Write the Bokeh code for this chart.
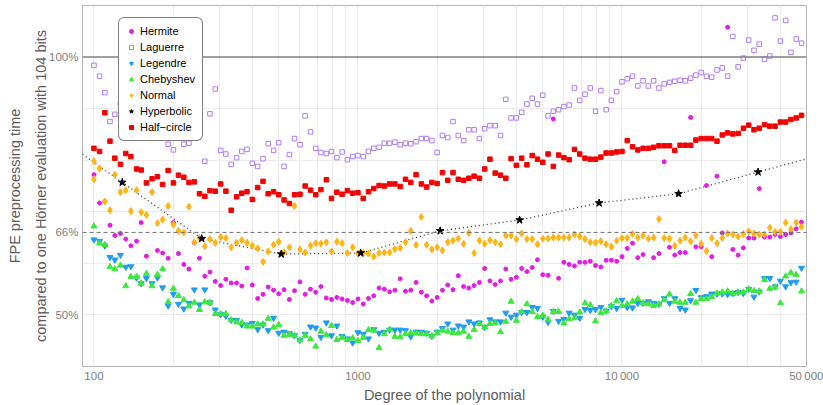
import numpy as np
from bokeh.plotting import figure
from bokeh.models import Range1d, FixedTicker, Span, LinearAxis
from bokeh.embed import file_html
from bokeh.resources import INLINE

# Polynomial degrees: 50 samples per decade starting at 100
degrees = [int(round(100 * 10 ** (k / 50))) for k in range(135)]

# Preprocessing time relative to one Horner evaluation with 104 bits (%)
hermite = [
    77.2, 71.7, 72.0, 67.4, 65.4, 65.8, 64.7, 63.4, 64.3, 67.9, 61.4, 73.8, 62.5, 62.0, 61.0, 67.9,
    61.9, 59.8, 58.9, 64.0, 61.0, 57.5,
    58.3, 56.5, 55.7, 56.9, 56.2, 56.2, 55.6, 59.1, 55.8, 53.2, 54.0, 55.4, 54.8, 54.1,
    54.9, 53.0, 54.7, 56.4, 54.0, 55.0, 54.4, 55.5, 53.3,
    53.0, 53.4, 53.1, 52.8, 52.4, 53.1, 52.1, 53.2, 53.7, 55.2, 55.0, 54.5, 54.8, 57.0, 54.6, 54.8,
    56.3, 54.4, 53.7, 52.7, 53.4, 54.8, 55.8, 54.9,
    57.6, 55.5, 55.2, 55.7, 56.3, 59.0, 56.6, 55.9, 56.6, 58.9, 56.9, 57.3, 59.0, 58.4, 59.2, 60.7,
    57.8, 57.7, 88.0, 57.1, 60.2, 59.8, 59.5,
    60.2, 60.2, 60.4, 59.6, 59.3, 60.6, 60.6, 60.4, 61.3, 62.9, 63.9, 61.1, 61.7, float("nan"), 61.1,
    61.9, 79.7, 63.1, 61.6, 62.1, 62.1, 88.3, 63.2,
    63.2, 75.1, 61.3, 76.9, 65.9, 105.8, 62.7, 61.6, 63.0, 64.9, 64.9, 74.5, 65.1, 65.1, 65.6, 65.2,
    65.6, 65.9, 66.7, 68.0,
]

laguerre = [
    98.4, 96.3, 93.1, 87.5, 88.9,
    91.0, 89.5, 92.0, 90.0, 93.0, 91.0, 89.0, 92.0, 90.0,
    83.1, 82.0, 86.0, 83.1, 83.3, 85.0, 87.0, 79.8,
    89.0, 93.8, 81.9, 81.2, 79.2, 80.5, 81.7, 82.1, 79.4, 78.8, 80.3, 83.2, 81.9, 83.4, 78.8, 81.1,
    84.2, 83.0, 88.6, 85.5, 82.3, 81.5, 81.3,
    81.7, 80.5, 81.6, 80.1, 80.7, 80.9, 80.7, 81.7, 82.3, 82.5, 83.3, 83.3, 83.5, 83.0, 83.3, 83.2,
    83.6, 84.2, 84.2, 83.8, 81.5, 84.8, 84.4, 87.5,
    84.8, 83.8, 85.9, 85.9, 84.2, 86.1, 86.7, 86.7, 84.8, 91.8, 88.2, 88.2, 89.3, 90.9, 92.0, 90.9,
    92.6, 88.6, 89.5, 89.8, 90.4, 90.7, 94.0,
    91.6, 92.8, 94.0, 89.5, 93.5, 89.8, 91.6, 93.3, 95.2, 95.8, 96.3, 94.4, 95.4, 94.4, 95.4, 94.0,
    94.8, 95.1, 95.3, 95.5, 95.4, 95.9, 96.5,
    97.0, 96.3, 96.1, 97.5, 97.9, 96.3, 104.0, 98.1, 99.8, 103.3, 101.3, 102.5, 99.6, 100.2, 107.6,
    103.1, 107.1, 100.9, 103.5, 102.7,
]

legendre = [
    64.6, 64.3, 63.4, 61.2, 60.7, 61.6, 59.3, 59.4, 57.2, 56.1, 57.1, 56.1, 57.2, 55.3, 51.8, 54.0,
    52.1, 51.2, 52.3, 54.9, 52.0, 54.9,
    52.4, 51.0, 50.1, 49.8, 49.0, 49.0, 48.1, 48.1, 48.4, 47.2, 48.1, 47.0, 49.4, 46.5,
    46.7, 46.4, 46.0, 45.1, 46.3, 47.7, 47.5, 45.7, 48.5,
    46.0, 47.9, 45.9, 45.4, 44.6, 46.6, 46.3, 45.4, 47.2, 46.5, 46.7, 47.1, 47.1, 47.1, 47.0, 45.8,
    46.7, 46.7, 46.5, 45.9, 46.7, 47.4, 48.3, 47.1,
    47.9, 47.7, 48.7, 48.3, 48.5, 47.6, 49.1, 48.7, 48.7, 50.4, 49.6, 50.0, 50.5, 50.5, 51.5, 51.3,
    49.6, 48.6, 50.7, 48.8, 49.2, 50.4, 50.0,
    49.4, 51.1, 50.9, 51.1, 51.5, 50.8, 51.7, 51.3, 52.9, 51.5, 51.4, 52.3, 52.3, 52.6, 52.3, 52.1,
    53.2, 52.3, 53.2, 51.3, 51.0, 52.8, 54.8,
    53.4, 53.6, 54.1, 54.1, 54.1, 54.0, 54.2, 54.4, 54.2, 55.0, 53.5, 54.5, 57.1, 57.1, 55.5, 56.6,
    55.5, 56.3, 56.4, 59.1,
]

chebyshev = [
    67.2, 63.9, 63.6, 59.3, 58.9, 59.6, 55.6, 57.4, 57.4, 56.1, 58.0, 55.6, 57.8, 58.9, 52.5, 55.1,
    53.7, 52.9, 51.7, 52.4, 51.0, 52.5,
    52.4, 50.2, 50.2, 50.2, 49.0, 48.6, 48.5, 47.8, 47.8, 48.2, 48.2, 49.3, 47.6, 48.1,
    46.0, 46.2, 46.0, 45.1, 46.0, 45.3, 43.9, 46.8, 46.1,
    47.9, 45.2, 45.6, 45.2, 45.5, 45.0, 45.6, 47.1, 47.0, 43.6, 46.3, 47.2, 45.8, 45.7, 46.3, 46.5,
    46.5, 46.3, 46.3, 45.9, 46.5, 47.0, 46.8, 46.5,
    46.5, 46.8, 45.8, 47.1, 48.3, 47.6, 48.3, 48.4, 46.7, 48.7, 52.6, 48.9, 50.6, 52.1, 50.6, 49.6,
    49.9, 49.1, 50.6, 50.6, 48.4, 49.2, 49.4,
    50.5, 52.3, 51.9, 48.8, 50.4, 50.7, 51.8, 52.7, 51.8, 52.1, 52.6, 53.1, 52.3, 52.1, 51.8, 52.1,
    52.9, 54.0, 52.6, 52.4, 52.4, 54.1, 52.4,
    53.1, 53.1, 53.5, 54.2, 54.4, 54.6, 54.1, 54.4, 54.4, 55.0, 54.7, 54.6, 56.8, 55.1, 55.4, 52.3,
    57.5, 58.2, 57.8, 54.6,
]

normal = [
    79.8, 78.4, 72.0, 70.3, 77.2, 73.8, 74.2, 70.1, 74.2, 69.9, 69.4, 73.8, 67.8, 68.5, 71.1, 67.5,
    66.3, 66.0, 71.0, 64.1, 64.9, 63.3,
    64.7, 64.0, 65.1, 64.9, 63.1, 64.0, 64.5, 64.0, 63.4, 62.9, 60.3, 62.3, 63.6, 64.2, 62.2, 63.1,
    71.1, 62.7, 62.1, 63.4, 63.9, 63.8, 64.1,
    62.3, 64.2, 63.9, 62.0, 63.1, 61.9, 62.0, 61.9, 61.3, 62.0, 62.1, 62.1, 62.8, 63.0, 64.1, 66.3,
    63.6, 69.0, 63.6, 62.7, 63.1, 62.5, 64.1, 64.4,
    64.8, 63.8, 65.9, 62.0, 64.4, 63.8, 64.5, 64.1, 63.7, 65.4, 65.4, 64.7, 65.8, 64.7, 64.7, 63.7,
    64.8, 64.8, 65.0, 65.0, 65.0, 65.0, 65.6,
    65.2, 64.7, 64.1, 64.0, 64.3, 63.7, 63.2, 64.4, 64.9, 64.9, 65.7, 65.0, 65.4, 64.8, 65.0, 68.6,
    64.9, 64.8, 63.4, 64.4, 65.0, 64.3, 65.4,
    63.8, 62.4, 64.9, 63.9, 64.9, 65.8, 65.6, 65.2, 65.7, 66.2, 65.8, 65.6, 65.6, 66.9, 66.1, 66.1,
    67.9, 66.6, 67.9, 67.1,
]
# second measurement of the Normal family at degree 100
normal_repeat_deg = [100]
normal_repeat = [76.3]

half_circle = [
    82.3, 81.7, 89.2, 83.7, 80.4, 79.2, 81.3, 80.7, 78.3, 78.1, 75.6, 76.4, 76.8, 75.3, 78.0, 75.6,
    77.1, 76.7, 75.7, 75.8, 73.5, 73.0,
    74.1, 74.0, 75.4, 74.0, 70.3, 72.9, 73.6, 73.9, 72.4, 74.7, 75.9, 73.5, 73.9, 73.3, 72.3, 71.6,
    73.3, 73.4, 75.0, 74.2, 73.3, 74.3, 76.2,
    72.6, 73.8, 73.4, 74.1, 73.6, 73.7, 72.6, 73.9, 74.5, 75.1, 75.0, 75.4, 75.4, 74.9, 76.3, 75.7,
    77.2, 75.4, 74.8, 75.7, 75.5, 77.6, 76.1, 77.6,
    76.3, 76.1, 76.5, 76.9, 76.5, 78.3, 80.2, 77.5, 77.1, 76.5, 80.3, 79.0, 80.4, 79.1, 80.9, 80.2,
    79.6, 81.2, 78.8, 81.0, 80.5, 80.1, 82.1,
    81.2, 80.4, 80.2, 80.2, 80.6, 81.4, 81.4, 81.6, 81.7, 83.8, 82.6, 82.0, 82.3, 82.3, 82.5, 82.8,
    82.8, 82.8, 81.9, 82.9, 82.9, 82.9, 83.9,
    84.2, 84.2, 84.2, 83.7, 84.9, 85.3, 85.1, 85.2, 86.2, 86.8, 85.9, 86.2, 86.9, 86.6, 86.6, 87.4,
    87.4, 87.9, 88.2, 88.7,
]

hyperbolic_deg = [128, 256, 512, 1024, 2048, 4096, 8192, 16384, 32768]
hyperbolic = [75.7, 64.8, 61.8, 62.0, 66.3, 68.4, 71.7, 73.5, 77.7]

x_ticks = [100, 1000, 10000, 50000]
x_tick_labels = ["100", "1000", "10\u2009000", "50\u2009000"]
y_ticks = [50, 66, 100]
y_tick_labels = ["50%", "66%", "100%"]

FONT = "Liberation Sans"
X_MIN, X_MAX = 90.5, 50000

p = figure(width=823, height=405, x_axis_type="log",
           x_range=Range1d(X_MIN, X_MAX), y_range=Range1d(40, 110),
           output_backend="svg", toolbar_location=None,
           min_border_left=82, min_border_right=17, min_border_top=5, min_border_bottom=37)
p.background_fill_color = "white"
p.border_fill_color = "white"
p.outline_line_color = "#b5b5b5"
p.outline_line_width = 1

# light background grid: every 10 % and every mantissa step on the log axis
p.xgrid.ticker = FixedTicker(ticks=[m * 10 ** e for e in (2, 3, 4) for m in range(1, 10)
                                    if m * 10 ** e <= X_MAX])
p.ygrid.ticker = FixedTicker(ticks=[50, 60, 70, 80, 90])
for g in (p.xgrid[0], p.ygrid[0]):
    g.grid_line_color = "#ebebeb"
    g.grid_line_width = 1

# reference levels
p.add_layout(Span(location=100, dimension="width", line_color="#808080", line_width=1.6))
p.add_layout(Span(location=66, dimension="width", line_color="#707070", line_width=1,
                  line_dash="4 3"))

# hyperbolic trend, extended to the frame edges along the outer segments
lx = np.log10(hyperbolic_deg)
slope_l = (hyperbolic[1] - hyperbolic[0]) / (lx[1] - lx[0])
slope_r = (hyperbolic[-1] - hyperbolic[-2]) / (lx[-1] - lx[-2])
line_x = [X_MIN] + hyperbolic_deg + [X_MAX]
line_y = ([hyperbolic[0] + slope_l * (np.log10(X_MIN) - lx[0])] + hyperbolic
          + [hyperbolic[-1] + slope_r * (np.log10(X_MAX) - lx[-1])])
p.line(line_x, line_y, line_color="#333333", line_width=1.3, line_dash="1 3")

p.scatter(degrees, hermite, marker="circle", size=4, fill_color="#e21de2",
          line_color="#e21de2", legend_label="Hermite")
p.scatter(degrees, laguerre, marker="square", size=4.5, fill_color=None,
          line_color="#b07cf7", line_width=1, legend_label="Laguerre")
p.scatter(degrees, legendre, marker="inverted_triangle", size=6, fill_color="#1e9cf2",
          line_color="#1e9cf2", legend_label="Legendre")
p.scatter(degrees, chebyshev, marker="triangle", size=6, fill_color="#3ce83c",
          line_color="#3ce83c", legend_label="Chebyshev")
p.scatter(normal_repeat_deg + degrees, normal_repeat + normal, marker="diamond", size=7,
          fill_color="#ffb414", line_color="#ffb414", legend_label="Normal")
p.scatter(hyperbolic_deg, hyperbolic, marker="star", size=8, fill_color="black",
          line_color="black", legend_label="Hyperbolic")
p.scatter(degrees, half_circle, marker="square", size=4.5, fill_color="#f50000",
          line_color="#f50000", legend_label="Half\u2212circle")

# axes
xax = p.xaxis[0]
xax.ticker = FixedTicker(ticks=x_ticks)
xax.major_label_overrides = dict(zip(x_ticks, x_tick_labels))
xax.axis_label = "Degree of the polynomial"

yax = p.yaxis[0]
yax.ticker = FixedTicker(ticks=y_ticks)
yax.major_label_overrides = dict(zip(y_ticks, y_tick_labels))
yax.axis_label = "compared to one H\u00f6rner evaluation with 104 bits"

y_outer = LinearAxis(axis_label="FPE preprocessing time", ticker=FixedTicker(ticks=[]))
p.add_layout(y_outer, "left")

for ax in (xax, yax, y_outer):
    ax.axis_line_color = None
    ax.major_tick_line_color = None
    ax.minor_tick_line_color = None
    ax.major_tick_out = 0
    ax.major_tick_in = 0
    ax.minor_tick_out = 0
    ax.major_label_text_font = FONT
    ax.major_label_text_font_size = "11.5px"
    ax.major_label_text_color = "#808080"
    ax.axis_label_text_font = FONT
    ax.axis_label_text_font_size = "14.5px"
    ax.axis_label_text_font_style = "normal"
    ax.axis_label_text_color = "#5c5c5c"

xax.major_label_standoff = 3
xax.axis_label_standoff = 2
yax.major_label_standoff = 4
yax.axis_label_standoff = -3
y_outer.axis_label_standoff = 8

leg = p.legend[0]
leg.location = (36, 225)
leg.border_line_color = "black"
leg.border_line_width = 1
leg.background_fill_color = "white"
leg.background_fill_alpha = 1
leg.label_text_font = FONT
leg.label_text_font_size = "11px"
leg.label_text_color = "black"
leg.glyph_width = 10
leg.glyph_height = 12
leg.label_height = 12
leg.spacing = 4
leg.padding = 7
leg.label_standoff = 4
leg.margin = 0
if "border_radius" in leg.properties():
    leg.border_radius = 6

open("out.html", "w").write(file_html(p, INLINE))
